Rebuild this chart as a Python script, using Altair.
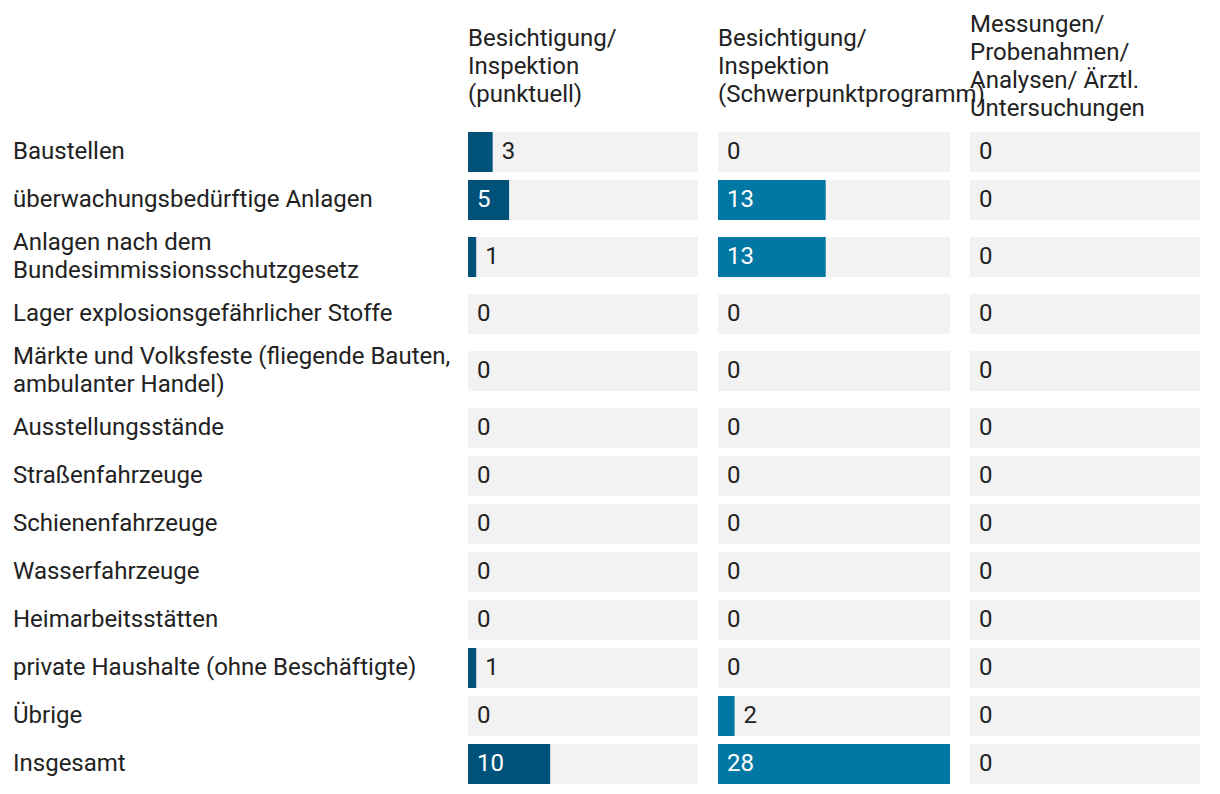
import altair as alt
import pandas as pd

# ---- data ----
row_labels = [
    "Baustellen",
    "überwachungsbedürftige Anlagen",
    "Anlagen nach dem\nBundesimmissionsschutzgesetz",
    "Lager explosionsgefährlicher Stoffe",
    "Märkte und Volksfeste (fliegende Bauten,\nambulanter Handel)",
    "Ausstellungsstände",
    "Straßenfahrzeuge",
    "Schienenfahrzeuge",
    "Wasserfahrzeuge",
    "Heimarbeitsstätten",
    "private Haushalte (ohne Beschäftigte)",
    "Übrige",
    "Insgesamt",
]
column_headers = [
    "Besichtigung/\nInspektion\n(punktuell)",
    "Besichtigung/\nInspektion\n(Schwerpunktprogramm)",
    "Messungen/\nProbenahmen/\nAnalysen/ Ärztl.\nUntersuchungen",
]
punktuell = [3, 5, 1, 0, 0, 0, 0, 0, 0, 0, 1, 0, 10]
schwerpunkt = [0, 13, 13, 0, 0, 0, 0, 0, 0, 0, 0, 2, 28]
messungen = [0, 0, 0, 0, 0, 0, 0, 0, 0, 0, 0, 0, 0]
series = [punktuell, schwerpunkt, messungen]

# ---- styling / layout ----
bar_colors = ["#00527b", "#0078a3", "#0078a3"]
bg_color = "#f2f2f2"
text_color = "#222222"
FONT = "Roboto"
FS = 24
LH = 28
ROW_H = 48          # height of a one-line row
EXTRA_LINE = 18     # extra height for each additional label line
BAR_HALF = 20
HEADER_Y = -61
Y_DOMAIN = [-115, 660]
XMAX = max(max(s) for s in series)
INSIDE_MIN = 5      # values from which the label fits inside the bar
col_widths = [230, 232, 230]
H = 775


def nlines(s):
    return s.count("\n") + 1


# row positions from label line counts
centers, tops, bots, label_y = [], [], [], []
acc = 0
for lab in row_labels:
    n = nlines(lab)
    h = ROW_H + EXTRA_LINE * (n - 1)
    c = acc + h / 2
    centers.append(c)
    tops.append(c - BAR_HALF)
    bots.append(c + BAR_HALF)
    label_y.append(c - (n - 1) * LH / 2)
    acc += h

yscale = alt.Scale(domain=Y_DOMAIN, reverse=True, nice=False, zero=False)

lab_df = pd.DataFrame({"label": row_labels, "ly": label_y, "z": [0] * len(row_labels)})
label_chart = alt.Chart(lab_df).mark_text(
    align="left", baseline="middle", font=FONT, fontSize=FS, lineBreak="\n",
    lineHeight=LH, color=text_color
).encode(
    x=alt.X("z:Q", scale=alt.Scale(domain=[0, 1]), axis=None),
    y=alt.Y("ly:Q", scale=yscale, axis=None),
    text="label:N",
).properties(width=435, height=H)


def column_chart(i):
    vals = series[i]
    df = pd.DataFrame({
        "label": row_labels,
        "value": vals,
        "z": [0] * len(vals),
        "xmax": [XMAX] * len(vals),
        "yt": tops,
        "yb": bots,
        "yc": centers,
        "lx": [0 if v >= INSIDE_MIN else v for v in vals],
        "lc": ["#ffffff" if v >= INSIDE_MIN else text_color for v in vals],
    })
    xs = alt.Scale(domain=[0, XMAX], nice=False, zero=True)
    base = alt.Chart(df)
    bg = base.mark_rect(color=bg_color).encode(
        x=alt.X("z:Q", scale=xs, axis=None),
        x2="xmax:Q",
        y=alt.Y("yt:Q", scale=yscale, axis=None),
        y2="yb:Q",
    )
    bars = base.mark_rect(color=bar_colors[i]).encode(
        x=alt.X("z:Q", scale=xs, axis=None),
        x2="value:Q",
        y=alt.Y("yt:Q", scale=yscale, axis=None),
        y2="yb:Q",
    )
    txt = base.mark_text(
        align="left", baseline="middle", dx=9, font=FONT, fontSize=FS
    ).encode(
        x=alt.X("lx:Q", scale=xs, axis=None),
        y=alt.Y("yc:Q", scale=yscale, axis=None),
        text="value:Q",
        color=alt.Color("lc:N", scale=None),
    )
    hy = HEADER_Y - (nlines(column_headers[i]) - 1) * LH / 2
    head = alt.Chart(pd.DataFrame({"h": [column_headers[i]], "y": [hy], "z": [0]})).mark_text(
        align="left", baseline="middle", font=FONT, fontSize=FS, lineBreak="\n",
        lineHeight=LH, color=text_color
    ).encode(
        x=alt.X("z:Q", scale=xs, axis=None),
        y=alt.Y("y:Q", scale=yscale, axis=None),
        text="h:N",
    )
    return alt.layer(bg, bars, txt, head).properties(width=col_widths[i], height=H)


chart = alt.hconcat(
    label_chart, column_chart(0), column_chart(1), column_chart(2),
    spacing=20, bounds="flush"
).configure_view(stroke=None).properties(padding=5, background="#ffffff")

chart.save("out.html", embed_options={"renderer": "svg", "actions": False})
